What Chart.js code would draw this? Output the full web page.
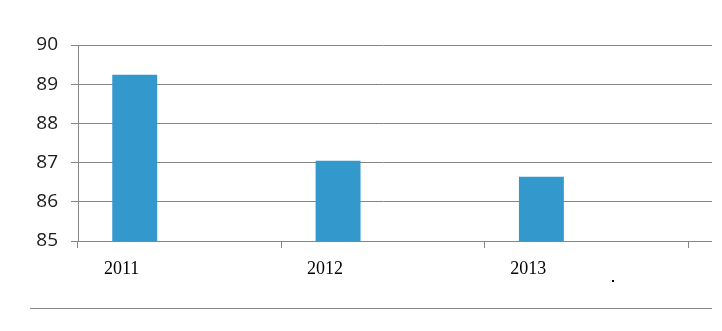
<!DOCTYPE html>
<html>
<head>
<meta charset="utf-8">
<script src="https://cdn.jsdelivr.net/npm/chart.js@4"></script>
<style>
  body { margin: 0; background: #fff; }
  #wrap { width: 722px; height: 331px; }
</style>
</head>
<body>
<div id="wrap"><canvas id="myChart" width="722" height="331"></canvas></div>
<script>
var years = ["2011", "2012", "2013"];
var values = [89.24, 87.05, 86.64];
var emptyA = [null, null, null];
var emptyB = [null, null, null];
var yTicks = [85, 86, 87, 88, 89, 90];

var gridColor = "#868686";
var barColor = "#3399CC";

// excel-ish extras: gridlines run past the plot, a rule under the chart, a stray dot
var extras = {
  id: "extras",
  afterDraw: function(chart) {
    var ctx = chart.ctx, area = chart.chartArea, y = chart.scales.y;
    ctx.save();
    ctx.strokeStyle = gridColor;
    ctx.lineWidth = 1;
    yTicks.forEach(function(v) {
      var py = Math.round(y.getPixelForValue(v) - 0.5) + 0.5;
      ctx.beginPath();
      ctx.moveTo(area.right, py);
      ctx.lineTo(area.right + 24, py);
      ctx.stroke();
    });
    ctx.beginPath();
    ctx.moveTo(30, 308.5);
    ctx.lineTo(712, 308.5);
    ctx.stroke();
    ctx.fillStyle = "#000";
    ctx.fillRect(612, 280, 2, 2);
    ctx.restore();
  }
};

new Chart("myChart", {
  type: "bar",
  data: {
    labels: years,
    datasets: [
      { data: values, backgroundColor: barColor },
      { data: emptyA, backgroundColor: barColor },
      { data: emptyB, backgroundColor: barColor }
    ]
  },
  options: {
    responsive: false,
    animation: false,
    categoryPercentage: 0.663,
    barPercentage: 1,
    layout: { padding: { top: 45, right: 34, left: 0, bottom: 0 } },
    plugins: {
      legend: { display: false },
      tooltip: { enabled: false }
    },
    scales: {
      x: {
        offset: true,
        afterFit: function(s) { s.height = 90; },
        grid: {
          offset: true,
          drawOnChartArea: false,
          color: gridColor,
          tickLength: 7
        },
        border: { color: gridColor },
        ticks: {
          color: "#000",
          padding: 10,
          labelOffset: -58,
          maxRotation: 0,
          font: { family: "'Liberation Serif', serif", size: 18 }
        }
      },
      y: {
        min: 85,
        max: 90,
        afterFit: function(s) { s.width = 78; },
        afterBuildTicks: function(s) {
          s.ticks = yTicks.map(function(v) { return { value: v }; });
        },
        grid: { color: gridColor, tickLength: 7 },
        border: { color: gridColor },
        ticks: {
          color: "#1a1a1a",
          padding: 13,
          font: { family: "'Open Sans', sans-serif", size: 19 }
        }
      }
    }
  },
  plugins: [extras]
});
</script>
</body>
</html>
